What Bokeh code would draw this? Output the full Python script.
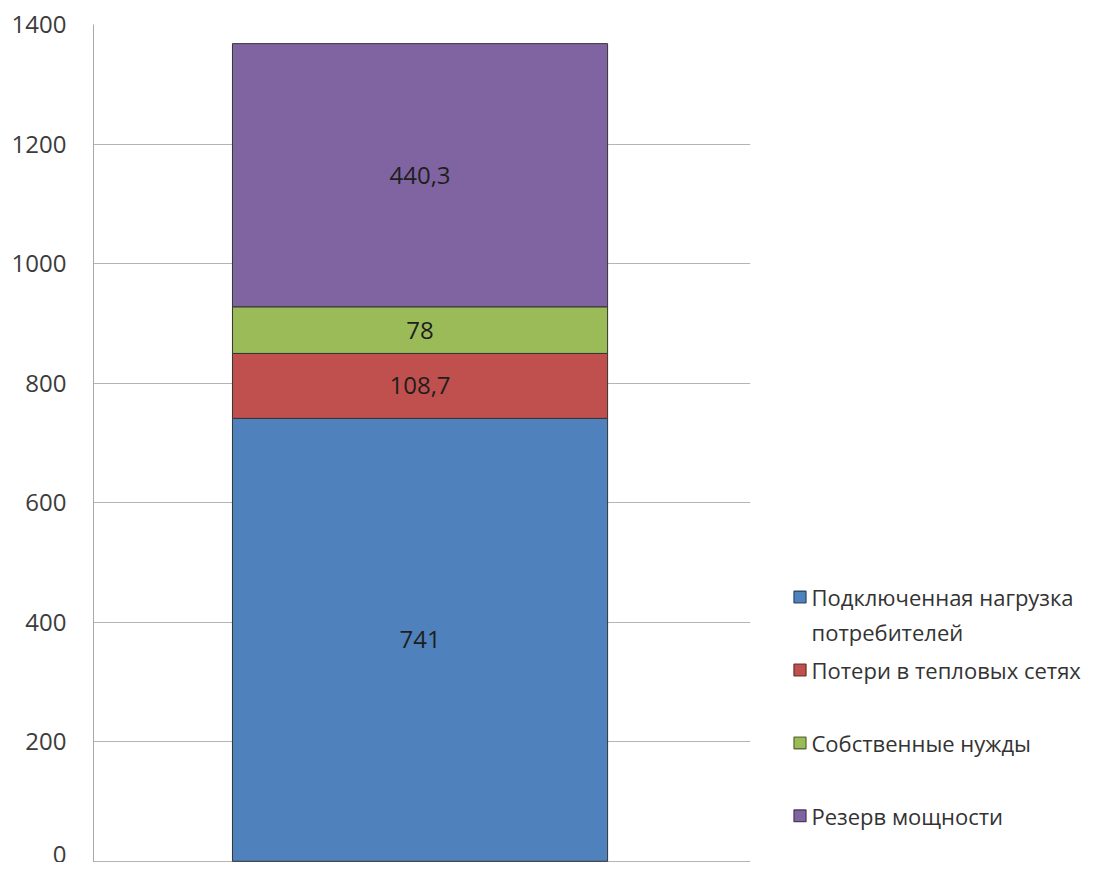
import numpy as np
from bokeh.plotting import figure
from bokeh.layouts import row
from bokeh.models import ColumnDataSource, Range1d, FixedTicker, LabelSet
from bokeh.core.properties import value
from bokeh.embed import file_html
from bokeh.resources import INLINE

# ---- data ----
series = ["Подключенная нагрузка потребителей", "Потери в тепловых сетях",
          "Собственные нужды", "Резерв мощности"]
legend_lines = [["Подключенная нагрузка", "потребителей"], ["Потери в тепловых сетях"],
                ["Собственные нужды"], ["Резерв мощности"]]
values = [741, 108.7, 78, 440.3]
colors = ["#4F81BD", "#C0504D", "#9BBB59", "#8064A2"]
y_ticks = [0, 200, 400, 600, 800, 1000, 1200, 1400]

FONT = "Open Sans"
H = 862


def darker(hexc, f=0.6):
    r, g, b = (int(hexc[i:i + 2], 16) for i in (1, 3, 5))
    return "#%02x%02x%02x" % (int(r * f), int(g * f), int(b * f))


p = figure(width=760, height=H, output_backend="svg", toolbar_location=None,
           x_range=Range1d(0, 1), y_range=Range1d(-2, 1400),
           min_border_left=93, min_border_right=10, min_border_top=24,
           min_border_bottom=0)
p.outline_line_color = None
p.xaxis.visible = False
p.xgrid.visible = False
p.ygrid.ticker = FixedTicker(ticks=y_ticks)
p.ygrid.grid_line_color = "#b4b4b4"
p.ygrid.grid_line_width = 1

ax = p.yaxis[0]
ax.ticker = FixedTicker(ticks=y_ticks)
ax.major_tick_in = 0
ax.major_tick_out = 0
ax.minor_tick_in = 0
ax.minor_tick_out = 0
ax.axis_line_color = "#a8a8a8"
ax.major_label_standoff = 27
ax.major_label_text_font = FONT
ax.major_label_text_font_size = "24px"
ax.major_label_text_color = "#3c3c3c"

bar_x = 0.497
bar_w = 0.571
bottoms = np.concatenate([[0], np.cumsum(values)[:-1]])
tops = np.cumsum(values)

for i, c in enumerate(colors):
    p.vbar(x=[bar_x], width=bar_w, bottom=[bottoms[i]], top=[tops[i]],
           fill_color=c, line_color="#333333", line_width=1)

lbl_src = ColumnDataSource(dict(
    x=[bar_x] * len(values),
    y=list((bottoms + tops) / 2),
    text=[("%g" % v).replace(".", ",") for v in values],
))
p.add_layout(LabelSet(x="x", y="y", text="text", source=lbl_src,
                      text_align="center", text_baseline="middle",
                      text_font=value(FONT), text_font_size="24px",
                      text_color="#1e1e1e"))

# ---- legend panel (pixel coordinates, y downward) ----
LW = 331
leg = figure(width=LW, height=H, output_backend="svg", toolbar_location=None,
             x_range=Range1d(0, LW), y_range=Range1d(H, 0),
             min_border_left=0, min_border_right=0, min_border_top=0,
             min_border_bottom=0)
leg.outline_line_color = None
leg.axis.visible = False
leg.grid.visible = False

sq_x = 39.5
txt_x = 51
item_y0 = 589
item_step = 75
line_step = 36
sq_y = [item_y0 + k * item_step for k in range(len(series))]
leg.rect(x=[sq_x] * len(series), y=sq_y, width=12, height=12,
         fill_color=colors, line_color=[darker(c) for c in colors], line_width=1.3)

tx, ty, tt = [], [], []
for k, lines in enumerate(legend_lines):
    for j, s in enumerate(lines):
        tx.append(txt_x)
        ty.append(sq_y[k] + j * line_step)
        tt.append(s)
leg.text(x=tx, y=ty, text=tt, text_font=value(FONT), text_font_size="22px",
         text_color="#333333", text_baseline="middle", text_align="left")

layout = row(p, leg, spacing=0)
open("out.html", "w").write(file_html(layout, INLINE))
